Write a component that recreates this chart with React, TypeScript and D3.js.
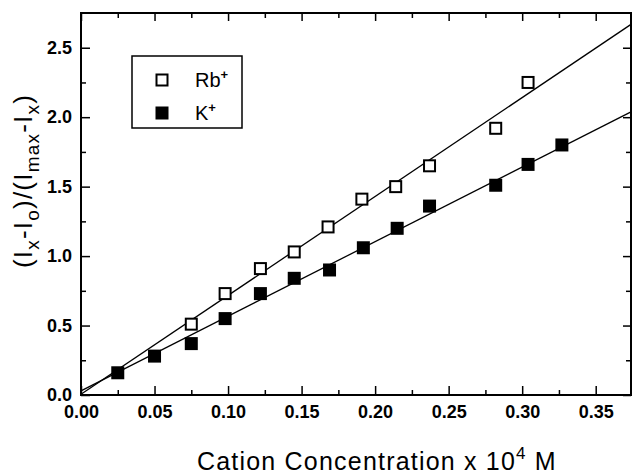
import React, { useEffect, useRef } from "react";
import * as d3 from "d3";

// Rb+ points (open squares)
const rbConc = [0.075, 0.098, 0.122, 0.145, 0.168, 0.191, 0.214, 0.237, 0.282, 0.304];
const rbRatio = [0.51, 0.73, 0.91, 1.03, 1.21, 1.41, 1.5, 1.65, 1.92, 2.25];

// K+ points (filled squares)
const kConc = [0.025, 0.05, 0.075, 0.098, 0.122, 0.145, 0.169, 0.192, 0.215, 0.237, 0.282, 0.304, 0.327];
const kRatio = [0.16, 0.28, 0.37, 0.55, 0.73, 0.84, 0.9, 1.06, 1.2, 1.36, 1.51, 1.66, 1.8];

// linear fits
const rbFit = [0.005, 7.12]; // intercept, slope
const kFit = [0.03, 5.37];

const xTicks = [0, 0.05, 0.1, 0.15, 0.2, 0.25, 0.3, 0.35];
const yTicks = [0, 0.5, 1, 1.5, 2, 2.5];

const W = 632;
const H = 475;
const left = 81;
const right = 631;
const top = 13;
const bottom = 395;
const font = "'Liberation Sans', Arial, sans-serif";

export default function App() {
  const ref = useRef<SVGSVGElement>(null);

  useEffect(() => {
    const svg = d3.select(ref.current);
    svg.selectAll("*").remove();

    const x = d3.scaleLinear().domain([0, 0.374]).range([left, right]);
    const y = d3.scaleLinear().domain([0, 2.75]).range([bottom, top]);

    const minorX = d3.range(0.025, 0.374, 0.05);
    const minorY = d3.range(0.25, 2.75, 0.5);

    // axes, ticks point inward on all four sides
    svg.append("g").attr("transform", `translate(0,${bottom})`)
      .call(d3.axisBottom(x).tickValues(xTicks).tickFormat(d3.format(".2f")).tickSizeInner(-9).tickSizeOuter(0).tickPadding(10));
    svg.append("g").attr("transform", `translate(0,${bottom})`)
      .call(d3.axisBottom(x).tickValues(minorX).tickFormat(() => "").tickSizeInner(-5).tickSizeOuter(0));
    svg.append("g").attr("transform", `translate(${left},0)`)
      .call(d3.axisLeft(y).tickValues(yTicks).tickFormat(d3.format(".1f")).tickSizeInner(-9).tickSizeOuter(0).tickPadding(9));
    svg.append("g").attr("transform", `translate(${left},0)`)
      .call(d3.axisLeft(y).tickValues(minorY).tickFormat(() => "").tickSizeInner(-5).tickSizeOuter(0));
    svg.append("g").attr("transform", `translate(0,${top})`)
      .call(d3.axisTop(x).tickValues(xTicks).tickFormat(() => "").tickSizeInner(-8).tickSizeOuter(0));
    svg.append("g").attr("transform", `translate(0,${top})`)
      .call(d3.axisTop(x).tickValues(minorX).tickFormat(() => "").tickSizeInner(-5).tickSizeOuter(0));
    svg.append("g").attr("transform", `translate(${right},0)`)
      .call(d3.axisRight(y).tickValues(yTicks).tickFormat(() => "").tickSizeInner(-8).tickSizeOuter(0));
    svg.append("g").attr("transform", `translate(${right},0)`)
      .call(d3.axisRight(y).tickValues(minorY).tickFormat(() => "").tickSizeInner(-5).tickSizeOuter(0));

    svg.selectAll(".domain").remove();
    svg.selectAll(".tick line").attr("stroke", "#000").attr("stroke-width", 1.5);
    svg.selectAll(".tick text").attr("fill", "#000").attr("font-family", font).attr("font-size", 18).attr("font-weight", "bold");

    svg.append("rect")
      .attr("x", left).attr("y", top)
      .attr("width", right - left).attr("height", bottom - top)
      .attr("fill", "none").attr("stroke", "#000").attr("stroke-width", 2);

    // fit lines
    [rbFit, kFit].forEach(f => {
      svg.append("path")
        .datum([0, 0.374])
        .attr("d", d3.line<number>().x(d => x(d)).y(d => y(f[0] + f[1] * d)))
        .attr("fill", "none").attr("stroke", "#000").attr("stroke-width", 1.3);
    });

    // markers
    const s = 13;
    svg.append("g").selectAll("rect")
      .data(rbConc.map((c, i) => [c, rbRatio[i]]))
      .enter().append("rect")
      .attr("x", d => x(d[0]) - s / 2 + 1).attr("y", d => y(d[1]) - s / 2 + 1)
      .attr("width", s - 2).attr("height", s - 2)
      .attr("fill", "#fff").attr("stroke", "#000").attr("stroke-width", 2);
    svg.append("g").selectAll("rect")
      .data(kConc.map((c, i) => [c, kRatio[i]]))
      .enter().append("rect")
      .attr("x", d => x(d[0]) - s / 2).attr("y", d => y(d[1]) - s / 2)
      .attr("width", s).attr("height", s)
      .attr("fill", "#000");

    // legend
    const lg = svg.append("g");
    lg.append("rect").attr("x", 132).attr("y", 56).attr("width", 110).attr("height", 72)
      .attr("fill", "#fff").attr("stroke", "#000").attr("stroke-width", 1.5);
    lg.append("rect").attr("x", 162 - s / 2 + 1).attr("y", 80 - s / 2 + 1).attr("width", s - 2).attr("height", s - 2)
      .attr("fill", "#fff").attr("stroke", "#000").attr("stroke-width", 2);
    lg.append("rect").attr("x", 162 - s / 2).attr("y", 113 - s / 2).attr("width", s).attr("height", s)
      .attr("fill", "#000");
    const labels = [["Rb", 87], ["K", 120]] as const;
    labels.forEach(([t, yy]) => {
      const tx = lg.append("text").attr("x", 195).attr("y", yy)
        .attr("font-family", font).attr("font-size", 20).attr("fill", "#000");
      tx.append("tspan").text(t);
      tx.append("tspan").attr("dy", -8).attr("font-size", 13).attr("font-weight", "bold").text("+");
    });

    // x title
    const xt = svg.append("text").attr("x", 197).attr("y", 470)
      .attr("font-family", font).attr("font-size", 25).attr("letter-spacing", 1.2).attr("fill", "#000");
    xt.append("tspan").text("Cation Concentration x 10");
    xt.append("tspan").attr("dy", -11).attr("font-size", 17).text("4");
    xt.append("tspan").attr("dy", 11).text(" M");

    // y title
    const yt = svg.append("text")
      .attr("transform", `translate(32,181) rotate(-90)`)
      .attr("text-anchor", "middle")
      .attr("font-family", font).attr("font-size", 26).attr("letter-spacing", 1.2).attr("fill", "#000");
    const parts: [string, boolean][] = [
      ["(I", false], ["x", true], ["-I", false], ["o", true], [")/(I", false], ["max", true], ["-I", false], ["x", true], [")", false],
    ];
    let sub = false;
    parts.forEach(([t, isSub]) => {
      const dy = isSub && !sub ? 7 : !isSub && sub ? -7 : 0;
      yt.append("tspan").attr("dy", dy).attr("font-size", isSub ? 19 : 26).text(t);
      sub = isSub;
    });
  }, []);

  return (
    <svg ref={ref} width={W} height={H} style={{ position: "fixed", left: 0, top: 0, background: "#fff" }} />
  );
}
